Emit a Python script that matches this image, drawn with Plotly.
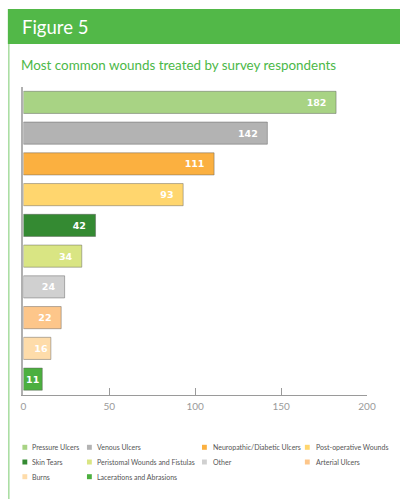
import plotly.graph_objects as go

# Wound categories, respondent counts and their colours (top bar first)
categories = [
    "Pressure Ulcers", "Venous Ulcers", "Neuropathic/Diabetic Ulcers",
    "Post-operative Wounds", "Skin Tears", "Peristomal Wounds and Fistulas",
    "Other", "Arterial Ulcers", "Burns", "Lacerations and Abrasions",
]
counts = [182, 142, 111, 93, 42, 34, 24, 22, 16, 11]
colors = [
    "#a8d384", "#b3b3b3", "#fbb040", "#ffd66e", "#348a32",
    "#d9e583", "#d0d0d0", "#fdc68a", "#fedcaa", "#4caf3f",
]
x_ticks = [0, 50, 100, 150, 200]

W, H = 409, 499
FONT = "Lato"
NBSP = "\u00a0"

fig = go.Figure()
for name, val, col in zip(categories, counts, colors):
    pad = "" if val < 20 else NBSP * 2
    fig.add_trace(go.Bar(
        y=[name], x=[val], orientation="h", name=name,
        marker=dict(color=col, line=dict(color="rgba(90,90,90,0.45)", width=1)),
        width=0.72,
        text=[f"{val}{pad}"], textposition="inside", insidetextanchor="end",
        textangle=0, constraintext="none",
        textfont=dict(family="DejaVu Sans", size=9.5, color="white", weight="bold"),
        hovertemplate="%{y}: %{x}<extra></extra>",
        showlegend=False,
    ))

# Plot area placed in figure pixels via axis domains (margins are zero)
fig.update_layout(
    width=W, height=H, autosize=False,
    margin=dict(l=0, r=0, t=0, b=0, pad=0),
    paper_bgcolor="white", plot_bgcolor="white",
    barmode="overlay", showlegend=False,
    font=dict(family=FONT),
    xaxis=dict(
        domain=[21 / W, 375 / W],
        range=[0, 200], tickvals=x_ticks, ticks="inside", ticklen=7,
        tickcolor="#9a9a9a", tickwidth=1, showline=True, linecolor="#9a9a9a",
        linewidth=1, showgrid=False, zeroline=False, ticklabelstandoff=2,
        tickfont=dict(family=FONT, size=10, color="#9a9a9a"),
    ),
    yaxis=dict(
        domain=[1 - 394.5 / H, 1 - 87 / H],
        categoryorder="array", categoryarray=categories, autorange="reversed",
        showticklabels=False, ticks="", showline=True, linecolor="#b0b0b0",
        linewidth=1.5, showgrid=False, zeroline=False,
    ),
)

# Header band, left rule, titles
fig.add_shape(type="rect", xref="paper", yref="paper", x0=5 / W, x1=1.0,
              y0=1 - 44 / H, y1=1 - 9 / H, fillcolor="#52b848", line_width=0,
              layer="below")
fig.add_shape(type="line", xref="paper", yref="paper", x0=6 / W, x1=6 / W,
              y0=0, y1=1 - 44 / H, line=dict(color="#a6dc9e", width=1.5))
fig.add_annotation(text="Figure 5", xref="paper", yref="paper", x=18 / W,
                   y=1 - 27 / H, xanchor="left", yanchor="middle", showarrow=False,
                   font=dict(family=FONT, size=18.5, color="white"))
fig.add_annotation(text="Most common wounds treated by survey respondents",
                   xref="paper", yref="paper", x=16 / W, y=1 - 65 / H,
                   xanchor="left", yanchor="middle", showarrow=False,
                   font=dict(family=FONT, size=13.4, color="#4cb848"))

# Key: four columns, filled row by row
col_sq = [20, 86.5, 205, 311]
col_tx = [28, 95, 214, 320.5]
row_y = [447.3, 462, 476.7]
for i, (name, col) in enumerate(zip(categories, colors)):
    c, r = i % 4, i // 4
    yc = row_y[r]
    fig.add_shape(type="rect", xref="paper", yref="paper",
                  x0=col_sq[c] / W, x1=(col_sq[c] + 5) / W,
                  y0=1 - (yc + 2.5) / H, y1=1 - (yc - 2.5) / H,
                  fillcolor=col, line_width=0)
    fig.add_annotation(text=name, xref="paper", yref="paper", x=col_tx[c] / W,
                       y=1 - yc / H, xanchor="left", yanchor="middle",
                       showarrow=False,
                       font=dict(family=FONT, size=7, color="#555555"))

# Let the figure sit flush in the page
fig.write_html("out.html",
               post_script="document.body.style.margin='0';"
                           "document.body.style.overflow='hidden';")
